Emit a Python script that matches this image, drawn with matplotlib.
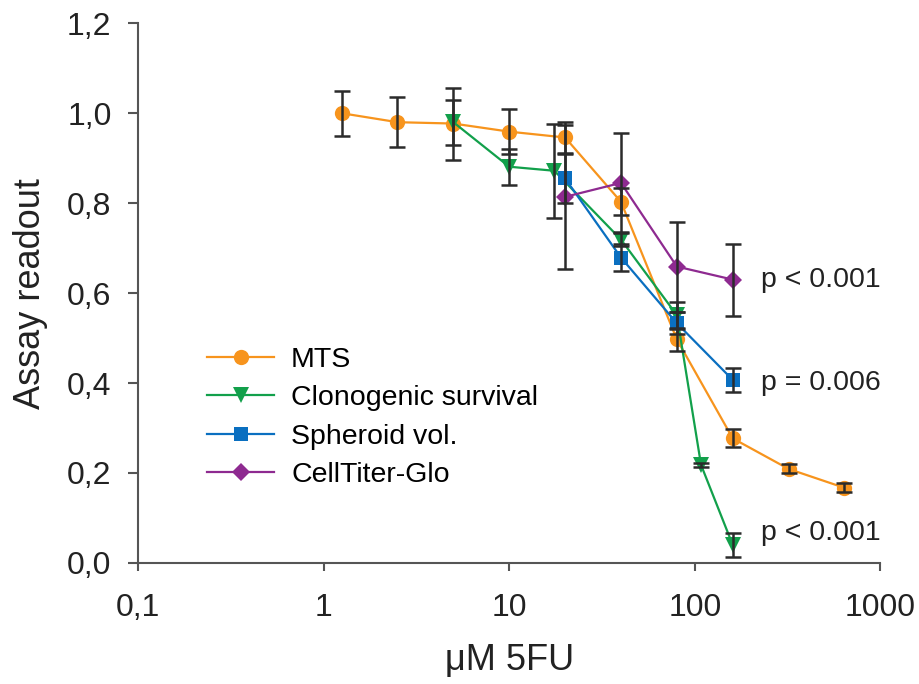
import numpy as np
import matplotlib
matplotlib.use("Agg")
import matplotlib.pyplot as plt
from matplotlib.ticker import FixedLocator, FixedFormatter, NullLocator

plt.rcParams['font.family'] = ['Liberation Sans', 'DejaVu Sans']

# data
mts_x = [1.25, 2.5, 5, 10, 20, 40, 80, 160, 320, 640]
mts_y = [1.0, 0.98, 0.977, 0.959, 0.946, 0.803, 0.497, 0.277, 0.209, 0.167]
mts_err = [0.05, 0.055, 0.08, 0.05, 0.035, 0.03, 0.025, 0.02, 0.01, 0.01]

clono_x = [5, 10, 17.5, 40, 80, 108, 160]
clono_y = [0.980, 0.881, 0.872, 0.719, 0.551, 0.218, 0.04]
clono_err = [0.05, 0.04, 0.105, 0.015, 0.03, 0.005, 0.026]

sph_x = [20, 40, 80, 160]
sph_y = [0.855, 0.679, 0.533, 0.407]
sph_err = [0.055, 0.03, 0.025, 0.026]

ctg_x = [20, 40, 80, 160]
ctg_y = [0.814, 0.845, 0.659, 0.630]
ctg_err = [0.16, 0.11, 0.1, 0.08]

pvals = ["p < 0.001", "p = 0.006", "p < 0.001"]
pval_y = [0.629, 0.40, 0.067]

xticks = [0.1, 1, 10, 100, 1000]
xtick_labels = ["0,1", "1", "10", "100", "1000"]
yticks = [0.0, 0.2, 0.4, 0.6, 0.8, 1.0, 1.2]
ytick_labels = ["0,0", "0,2", "0,4", "0,6", "0,8", "1,0", "1,2"]

fig = plt.figure(figsize=(9.2, 6.84), dpi=100)
ax = fig.add_axes([0.15, 0.177, 0.807, 0.789])

series = [
    ("MTS", mts_x, mts_y, mts_err, "#F7941D", "o", 11),
    ("Clonogenic survival", clono_x, clono_y, clono_err, "#12A04B", "v", 11),
    ("Spheroid vol.", sph_x, sph_y, sph_err, "#0A6FC0", "s", 9.5),
    ("CellTiter-Glo", ctg_x, ctg_y, ctg_err, "#8E2A90", "D", 9.5),
]

for name, x, y, e, c, m, ms in series:
    ax.plot(x, y, color=c, marker=m, markersize=ms, linewidth=1.6,
            markeredgewidth=0, label=name, zorder=3)
    ax.errorbar(x, y, yerr=e, fmt='none', ecolor='#2b2b2b', elinewidth=1.8,
                capsize=6, capthick=1.8, zorder=4)

for txt, yy in zip(pvals, pval_y):
    ax.text(227, yy, txt, fontsize=20.5, color='#222222', va='center', ha='left')

ax.set_xscale('log')
ax.set_xlim(0.1, 1000)
ax.set_ylim(0, 1.2)
ax.xaxis.set_major_locator(FixedLocator(xticks))
ax.xaxis.set_major_formatter(FixedFormatter(xtick_labels))
ax.xaxis.set_minor_locator(NullLocator())
ax.set_yticks(yticks)
ax.set_yticklabels(ytick_labels)

for s in ['top', 'right']:
    ax.spines[s].set_visible(False)
for s in ['left', 'bottom']:
    ax.spines[s].set_color('#555555')
    ax.spines[s].set_linewidth(1.5)

ax.tick_params(axis='y', direction='out', length=7, width=1.5, color='#555555',
               labelsize=23, labelcolor='#222222', pad=12)
ax.tick_params(axis='x', direction='out', length=6, width=1.5, color='#555555',
               labelsize=23, labelcolor='#222222', pad=16)

ax.set_xlabel("μM 5FU", fontsize=26, color='#222222', labelpad=14)
ax.set_ylabel("Assay readout", fontsize=26, color='#222222', labelpad=14)

ax.legend(loc='upper left', bbox_to_anchor=(0.093, 0.40), frameon=False,
          fontsize=20.5, handlelength=2.35, handletextpad=0.6, labelspacing=0.43,
          borderaxespad=0, borderpad=0, markerscale=1.0)

fig.savefig("out.png", dpi=100)
